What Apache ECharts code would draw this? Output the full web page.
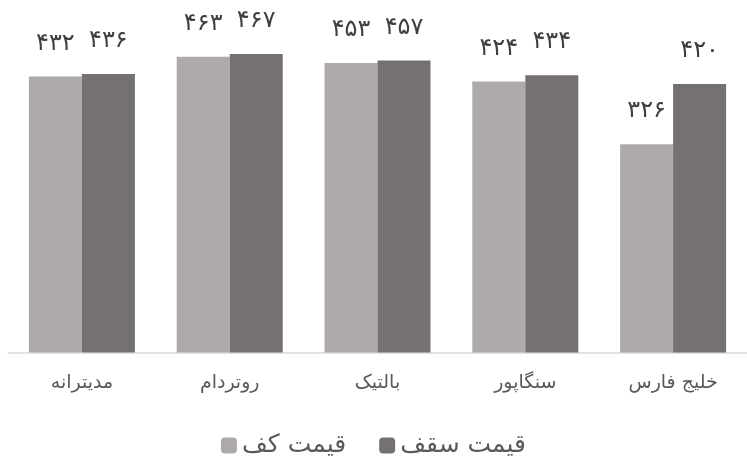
<!DOCTYPE html>
<html>
<head>
<meta charset="utf-8">
<script src="https://cdn.jsdelivr.net/npm/echarts@6/dist/echarts.min.js"></script>
<style>
  html, body { margin: 0; padding: 0; background: #fff; }
  #main { width: 747px; height: 456px; }
</style>
</head>
<body>
<div id="main"></div>
<script>
// داده‌ها
var categories = ['مدیترانه', 'روتردام', 'بالتیک', 'سنگاپور', 'خلیج فارس'];
var floorPrice = [432, 463, 453, 424, 326];
var ceilPrice = [436, 467, 457, 434, 420];
var seriesNames = ['قیمت کف', 'قیمت سقف'];

var FONT = 'DejaVu Sans';

// تبدیل ارقام به فارسی
function fa(v) {
  return String(v).replace(/\d/g, function (d) { return '۰۱۲۳۴۵۶۷۸۹'[d]; });
}

var chart = echarts.init(document.getElementById('main'));

var labelStyle = {
  show: true,
  position: 'top',
  distance: 21,
  color: '#404040',
  fontSize: 24,
  fontFamily: FONT,
  formatter: function (p) { return fa(p.value); }
};

var option = {
  animation: false,
  grid: { left: 8, top: 33, width: 743, height: 319.5 },
  legend: {
    data: seriesNames,
    top: 428,
    left: 'center',
    itemWidth: 16,
    itemHeight: 16,
    itemGap: 33,
    textStyle: { color: '#595959', fontSize: 25, fontFamily: FONT }
  },
  xAxis: {
    type: 'category',
    data: categories,
    axisLine: { lineStyle: { color: '#D9D9D9', width: 1.5 } },
    axisTick: { show: false },
    axisLabel: { color: '#595959', fontSize: 19, fontFamily: FONT, margin: 21 }
  },
  yAxis: {
    type: 'value',
    min: 0,
    max: 500,
    show: false,
    splitLine: { show: false }
  },
  series: [{
    name: seriesNames[0],
    type: 'bar',
    data: floorPrice,
    barWidth: 53,
    barGap: '0%',
    itemStyle: { color: '#AEAAAA' },
    label: labelStyle
  }, {
    name: seriesNames[1],
    type: 'bar',
    data: ceilPrice,
    barWidth: 53,
    barGap: '0%',
    itemStyle: { color: '#767171' },
    label: labelStyle
  }]
};

chart.setOption(option);
</script>
</body>
</html>
